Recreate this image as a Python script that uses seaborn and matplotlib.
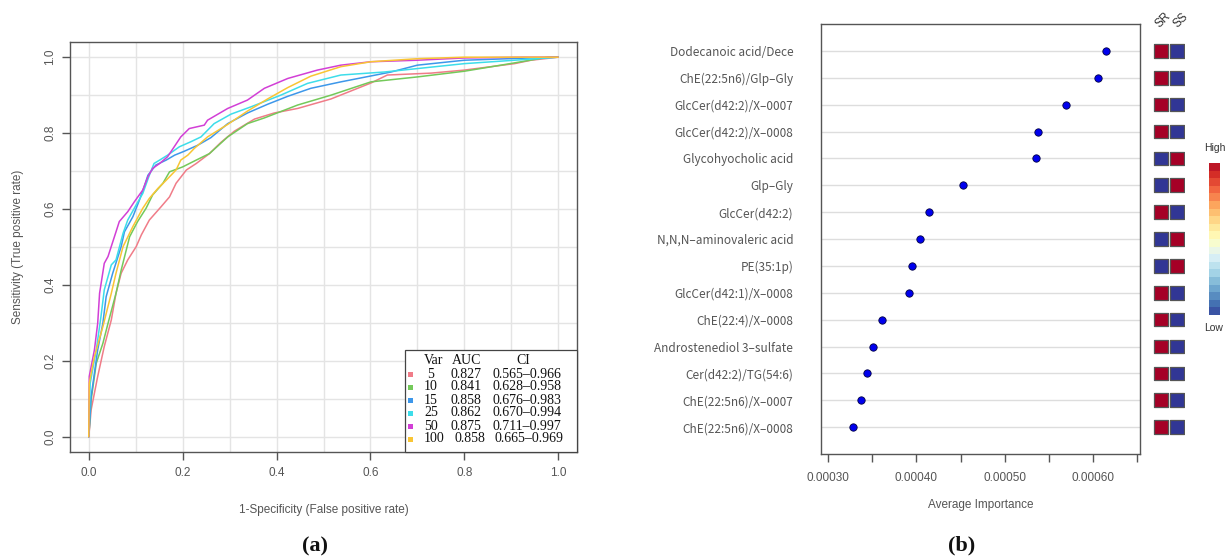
import numpy as np
import pandas as pd
import seaborn as sns
import matplotlib.pyplot as plt
from matplotlib.cm import ScalarMappable
from matplotlib.colors import ListedColormap, BoundaryNorm
from matplotlib.patches import Rectangle

# =========================
# Figure size (pixels)
# =========================
W, H = 1226, 559
OUT_PATH = "out.png"

# =========================
# (a) ROC curves
# =========================
ROC_VARS = ["5", "10", "15", "25", "50", "100"]
ROC_AUC = ["0.827", "0.841", "0.858", "0.862", "0.875", "0.858"]
ROC_CI = ["0.565–0.966", "0.628–0.958", "0.676–0.983",
          "0.670–0.994", "0.711–0.997", "0.665–0.969"]
ROC_COLORS = ["#F07C88", "#74C95A", "#3D97EA", "#3DDDEA", "#D23FD6", "#F9C534"]

FPR_5 = [0, 0.005, 0.019, 0.033, 0.048, 0.058, 0.069, 0.083, 0.101, 0.112,
         0.129, 0.154, 0.172, 0.186, 0.208, 0.229, 0.257, 0.281, 0.31, 0.353,
         0.395, 0.445, 0.516, 0.601, 0.636, 0.729, 0.8, 0.907, 0.942, 1.0]
TPR_5 = [0, 0.071, 0.159, 0.238, 0.308, 0.378, 0.431, 0.466, 0.501, 0.532,
         0.571, 0.606, 0.632, 0.668, 0.703, 0.72, 0.746, 0.775, 0.805, 0.837,
         0.853, 0.865, 0.89, 0.932, 0.953, 0.958, 0.966, 0.983, 0.992, 1.0]

FPR_10 = [0, 0.005, 0.016, 0.03, 0.041, 0.058, 0.069, 0.087, 0.104, 0.122,
          0.136, 0.158, 0.172, 0.2, 0.229, 0.257, 0.296, 0.338, 0.374, 0.445,
          0.516, 0.601, 0.7, 0.8, 0.907, 0.978, 1.0]
TPR_10 = [0, 0.097, 0.194, 0.246, 0.299, 0.378, 0.439, 0.527, 0.567, 0.602,
          0.637, 0.668, 0.698, 0.711, 0.729, 0.746, 0.79, 0.825, 0.84, 0.874,
          0.9, 0.935, 0.948, 0.963, 0.985, 1.0, 1.0]

FPR_15 = [0, 0.005, 0.019, 0.03, 0.037, 0.051, 0.069, 0.076, 0.094, 0.108,
          0.118, 0.126, 0.143, 0.165, 0.183, 0.203, 0.232, 0.26, 0.296, 0.338,
          0.381, 0.424, 0.473, 0.537, 0.644, 0.7, 0.8, 0.942, 1.0]
TPR_15 = [0, 0.106, 0.229, 0.299, 0.369, 0.431, 0.501, 0.54, 0.58, 0.624,
          0.659, 0.689, 0.716, 0.729, 0.742, 0.752, 0.768, 0.788, 0.825, 0.853,
          0.876, 0.897, 0.918, 0.935, 0.961, 0.979, 0.992, 0.998, 1.0]

FPR_25 = [0, 0.003, 0.016, 0.026, 0.033, 0.041, 0.048, 0.058, 0.073, 0.083,
          0.101, 0.115, 0.129, 0.139, 0.151, 0.168, 0.193, 0.217, 0.239, 0.267,
          0.303, 0.345, 0.409, 0.466, 0.537, 0.63, 0.7, 0.8, 0.907, 1.0]
TPR_25 = [0, 0.141, 0.229, 0.317, 0.387, 0.422, 0.453, 0.466, 0.536, 0.571,
          0.611, 0.641, 0.689, 0.72, 0.729, 0.742, 0.764, 0.777, 0.79, 0.825,
          0.85, 0.869, 0.9, 0.931, 0.953, 0.961, 0.97, 0.983, 0.992, 1.0]

FPR_50 = [0, 0.001, 0.012, 0.019, 0.023, 0.033, 0.041, 0.058, 0.065, 0.083,
          0.097, 0.115, 0.126, 0.136, 0.151, 0.168, 0.196, 0.214, 0.246, 0.253,
          0.296, 0.338, 0.374, 0.424, 0.487, 0.537, 0.601, 0.7, 0.8, 0.928, 1.0]
TPR_50 = [0, 0.159, 0.229, 0.299, 0.378, 0.457, 0.475, 0.54, 0.567, 0.593,
          0.619, 0.65, 0.685, 0.707, 0.72, 0.738, 0.79, 0.812, 0.821, 0.834,
          0.865, 0.887, 0.918, 0.944, 0.966, 0.979, 0.988, 0.992, 0.998, 1.0, 1.0]

FPR_100 = [0, 0.001, 0.012, 0.03, 0.048, 0.058, 0.073, 0.094, 0.115, 0.129,
           0.147, 0.165, 0.186, 0.196, 0.211, 0.225, 0.253, 0.296, 0.338, 0.381,
           0.424, 0.473, 0.537, 0.601, 0.7, 0.8, 1.0]
TPR_100 = [0, 0.141, 0.211, 0.29, 0.378, 0.431, 0.501, 0.554, 0.602, 0.628,
           0.654, 0.676, 0.703, 0.729, 0.742, 0.76, 0.79, 0.823, 0.858, 0.89,
           0.92, 0.95, 0.975, 0.988, 0.996, 1.0, 1.0]

ROC_FPR = [FPR_5, FPR_10, FPR_15, FPR_25, FPR_50, FPR_100]
ROC_TPR = [TPR_5, TPR_10, TPR_15, TPR_25, TPR_50, TPR_100]

# =========================
# (b) Average importance dot chart
# =========================
FEATURES = [
    "Dodecanoic acid/Dece",
    "ChE(22:5n6)/Glp–Gly",
    "GlcCer(d42:2)/X–0007",
    "GlcCer(d42:2)/X–0008",
    "Glycohyocholic acid",
    "Glp–Gly",
    "GlcCer(d42:2)",
    "N,N,N–aminovaleric acid",
    "PE(35:1p)",
    "GlcCer(d42:1)/X–0008",
    "ChE(22:4)/X–0008",
    "Androstenediol 3–sulfate",
    "Cer(d42:2)/TG(54:6)",
    "ChE(22:5n6)/X–0007",
    "ChE(22:5n6)/X–0008",
]
IMPORTANCE = [0.000615, 0.000605, 0.000569, 0.000538, 0.000535,
              0.000453, 0.000414, 0.000404, 0.000395, 0.000392,
              0.000361, 0.000351, 0.000344, 0.000337, 0.000328]
HEAT_COLS = ["SR", "SS"]
SR_LEVEL = [1, 1, 1, 1, 0, 0, 1, 0, 0, 1, 1, 1, 1, 1, 1]
SS_LEVEL = [0, 0, 0, 0, 1, 1, 0, 1, 1, 0, 0, 0, 0, 0, 0]

GRAY_TXT = "#555555"
SPINE = "#555555"


def box_px(left, top, right, bottom):
    """Axes rectangle from pixel edges (origin top-left)."""
    return [left / W, 1 - bottom / H, (right - left) / W, (bottom - top) / H]


def fx(px):
    return px / W


def fy(py):
    return 1 - py / H


def roc_frame() -> pd.DataFrame:
    parts = []
    for var, fpr, tpr in zip(ROC_VARS, ROC_FPR, ROC_TPR):
        parts.append(pd.DataFrame({"fpr": fpr, "tpr": tpr, "var": var}))
    return pd.concat(parts, ignore_index=True)


def draw_roc(fig) -> None:
    ax = fig.add_axes(box_px(70, 42, 577, 452))
    df = roc_frame()
    sns.lineplot(data=df, x="fpr", y="tpr", hue="var", hue_order=ROC_VARS,
                 palette=ROC_COLORS, estimator=None, sort=False, legend=False,
                 linewidth=1.1, ax=ax)

    ax.set_xlim(-0.04, 1.04)
    ax.set_ylim(-0.04, 1.04)
    ax.set_xticks(np.arange(0, 1.01, 0.2))
    ax.set_yticks(np.arange(0, 1.01, 0.2))
    ax.set_xticks(np.arange(0, 1.01, 0.1), minor=True)
    ax.set_yticks(np.arange(0, 1.01, 0.1), minor=True)
    ax.grid(which="both", color="#E4E4E4", linewidth=1.0)
    ax.set_axisbelow(True)
    ax.tick_params(which="minor", length=0)
    ax.tick_params(which="major", direction="out", length=6, width=1,
                   bottom=True, left=True,
                   color=SPINE, labelsize=8.5, labelcolor=GRAY_TXT)
    ax.tick_params(axis="x", pad=5)
    ax.tick_params(axis="y", pad=4)
    plt.setp(ax.get_yticklabels(), rotation=90, va="center")
    for s in ax.spines.values():
        s.set_color(SPINE)
        s.set_linewidth(1.0)

    ax.set_xlabel("1-Specificity (False positive rate)", fontsize=8.5,
                  color=GRAY_TXT)
    ax.set_ylabel("Sensitivity (True positive rate)", fontsize=8.5,
                  color=GRAY_TXT)
    ax.xaxis.label.set_va("center")
    ax.yaxis.label.set_va("center")
    ax.xaxis.set_label_coords(0.5, -(510 - 452) / 410)
    ax.yaxis.set_label_coords(-(70 - 18) / 507, 0.5)

    # legend box (bottom right)
    fig.add_artist(Rectangle((fx(405), fy(452)), (577 - 405) / W, (452 - 350) / H,
                             transform=fig.transFigure, facecolor="white",
                             edgecolor="#444444", linewidth=0.9, zorder=5))
    serif = dict(family=["Liberation Serif", "DejaVu Serif"], fontsize=10,
                 ha="center", va="center", zorder=6, color="#111111")
    fig.text(fx(434), fy(361), "Var", **serif)
    fig.text(fx(467), fy(361), "AUC", **serif)
    fig.text(fx(523), fy(361), "CI", **serif)
    for i, (var, auc, ci, col) in enumerate(zip(ROC_VARS, ROC_AUC, ROC_CI, ROC_COLORS)):
        y = 374 + i * 13
        fig.add_artist(Rectangle((fx(408), fy(y + 2.5)), 5 / W, 5 / H,
                                 transform=fig.transFigure, facecolor=col,
                                 edgecolor="none", zorder=6))
        fig.text(fx(431 + (3 if var == "100" else 0)), fy(y), var, **serif)
        fig.text(fx(466 + (4 if var == "100" else 0)), fy(y), auc, **serif)
        fig.text(fx(527 + (2 if var == "100" else 0)), fy(y), ci, **serif)


def draw_importance(fig) -> None:
    ax = fig.add_axes(box_px(821, 24, 1140, 454))
    rows = np.arange(len(FEATURES))
    df = pd.DataFrame({"feature": FEATURES, "importance": IMPORTANCE, "row": rows})
    sns.scatterplot(data=df, x="importance", y="row", color="#0000EE",
                    edgecolor="#000044", linewidth=0.6, s=28, zorder=3, ax=ax)

    ax.set_ylim(len(FEATURES), -1)
    ax.set_yticks(rows)
    ax.set_yticklabels(FEATURES, fontfamily=["Noto Sans CJK SC", "DejaVu Sans"])
    ax.grid(axis="y", color="#DDDDDD", linewidth=1.0)
    ax.set_axisbelow(True)
    ax.tick_params(axis="y", length=0, pad=20, labelsize=8.5, labelcolor=GRAY_TXT)

    ax.set_xlim(0.000292, 0.000653)
    ticks = np.arange(0.00030, 0.000651, 0.00005)
    ax.set_xticks(ticks)
    ax.set_xticklabels([f"{t:.5f}" if i % 2 == 0 else "" for i, t in enumerate(ticks)])
    ax.tick_params(axis="x", direction="out", length=6, width=1, color=SPINE,
                   bottom=True, labelsize=8.5, labelcolor=GRAY_TXT, pad=7)
    for s in ax.spines.values():
        s.set_color(SPINE)
        s.set_linewidth(1.0)
    ax.set_xlabel("Average Importance", fontsize=8.5, color=GRAY_TXT)
    ax.set_ylabel("")
    ax.xaxis.label.set_va("center")
    ax.xaxis.set_label_coords(0.5, -(505 - 454) / 430)

    # SR / SS level squares
    hx = fig.add_axes(box_px(1153, 24, 1185, 454))
    heat = pd.DataFrame({
        "col": np.repeat([0, 1], len(FEATURES)),
        "row": np.tile(rows, 2),
        "level": SR_LEVEL + SS_LEVEL,
    })
    rdylbu = sns.color_palette("RdYlBu_r", as_cmap=True)
    sns.scatterplot(data=heat, x="col", y="row", hue="level",
                    palette={1: rdylbu(1.0), 0: rdylbu(0.0)}, marker="s",
                    s=96, edgecolor="#555555", linewidth=0.9, legend=False, ax=hx)
    hx.set_xlim(-0.5, 1.5)
    hx.set_ylim(len(FEATURES), -1)
    hx.axis("off")
    trans = hx.get_xaxis_transform()
    for xpos, name in zip([0.12, 1.25], HEAT_COLS):
        hx.text(xpos, 1.008, name, transform=trans, rotation=45, ha="center",
                va="center", fontsize=8.5, color="#333333", clip_on=False)

    # colour key
    cax = fig.add_axes(box_px(1209, 163, 1220, 315))
    cmap = ListedColormap(sns.color_palette("RdYlBu_r", 20))
    norm = BoundaryNorm(np.linspace(0, 1, 21), 20)
    cb = fig.colorbar(ScalarMappable(norm=norm, cmap=cmap), cax=cax)
    cb.outline.set_visible(False)
    cb.set_ticks([])
    cb.minorticks_off()
    cax.tick_params(which="both", length=0, labelright=False)
    fig.text(fx(1215), fy(148), "High", ha="center", va="center",
             fontsize=7.5, color="#333333")
    fig.text(fx(1214), fy(328), "Low", ha="center", va="center",
             fontsize=7.5, color="#333333")


def main():
    sns.set_theme(style="white")
    plt.rcParams["font.family"] = ["Liberation Sans", "DejaVu Sans"]

    fig = plt.figure(figsize=(W / 100, H / 100), dpi=100)
    draw_roc(fig)
    draw_importance(fig)

    panel = dict(family=["Liberation Serif", "DejaVu Serif"], fontsize=16,
                 fontweight="bold", ha="center", va="center", color="#111111")
    fig.text(fx(315), fy(546), "(a)", **panel)
    fig.text(fx(962), fy(545), "(b)", **panel)

    fig.savefig(OUT_PATH, dpi=100)
    plt.close(fig)


if __name__ == "__main__":
    main()
